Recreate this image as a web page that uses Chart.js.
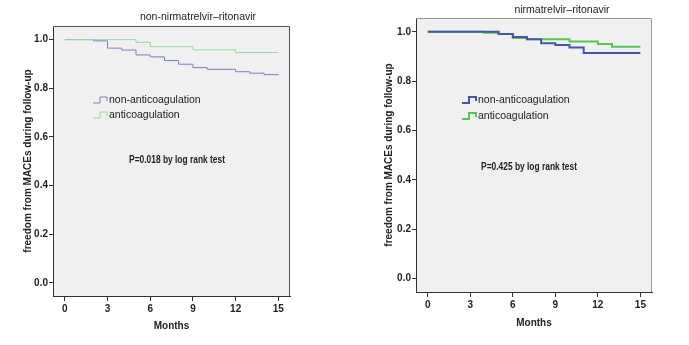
<!DOCTYPE html>
<html>
  <head>
    <script src="https://cdn.jsdelivr.net/npm/chart.js"></script>
    <title>Kaplan-Meier MACEs</title>
    <style>
      body {
        margin: 0;
        background-color: white;
      }
      .panel {
        position: absolute;
        top: 0;
      }
    </style>
  </head>
  <body>
    <canvas id="leftChart" class="panel" width="345" height="345" style="left:0px"></canvas>
    <canvas id="rightChart" class="panel" width="344" height="345" style="left:345px"></canvas>

    <script>
      // axis ticks
      var monthTicks = [0, 3, 6, 9, 12, 15];
      var survTicks = [0, 0.2, 0.4, 0.6, 0.8, 1.0];

      // non-nirmatrelvir-ritonavir group (left)
      var leftNonTime = [0, 2, 3, 4, 5, 6, 7, 8, 9, 10, 12, 13, 14, 15];
      var leftNonSurv = [1, 0.995, 0.965, 0.957, 0.937, 0.929, 0.914, 0.899, 0.885, 0.878, 0.868, 0.862, 0.856, 0.854];
      var leftAntiTime = [0, 5, 6, 9, 12, 15];
      var leftAntiSurv = [1, 0.989, 0.971, 0.958, 0.947, 0.947];

      // nirmatrelvir-ritonavir group (right)
      var rightNonTime = [0, 5, 6, 7, 8, 9, 10, 11, 15];
      var rightNonSurv = [1, 0.991, 0.979, 0.970, 0.954, 0.947, 0.936, 0.914, 0.914];
      var rightAntiTime = [0, 4, 5, 6, 7, 10, 12, 13, 15];
      var rightAntiSurv = [1, 0.996, 0.991, 0.975, 0.970, 0.961, 0.951, 0.940, 0.940];

      var seriesNames = ['non-anticoagulation', 'anticoagulation'];

      function toPoints(times, surv) {
        var pts = [];
        for (var i = 0; i < times.length; i++) {
          pts.push({x: times[i], y: surv[i]});
        }
        return pts;
      }

      var regular = '"Liberation Sans", Arial, sans-serif';

      // grey plot background + box, title, legend and p-value text
      var panelPlugin = {
        id: 'panel',
        beforeDraw: function(chart) {
          var a = chart.chartArea, ctx = chart.ctx;
          ctx.save();
          ctx.fillStyle = '#f0f0f0';
          ctx.fillRect(a.left, a.top, a.right - a.left, a.bottom - a.top);
          ctx.restore();
        },
        afterDraw: function(chart) {
          var o = chart.options.plugins.panel;
          var a = chart.chartArea, ctx = chart.ctx;
          ctx.save();
          ctx.strokeStyle = o.boxColor;
          ctx.lineWidth = 1;
          ctx.beginPath();
          ctx.moveTo(a.left, a.top + 0.5);
          ctx.lineTo(a.right - 0.5, a.top + 0.5);
          ctx.lineTo(a.right - 0.5, a.bottom);
          ctx.stroke();

          ctx.fillStyle = '#222';
          ctx.textBaseline = 'middle';
          ctx.textAlign = 'center';
          ctx.font = '10.5px ' + regular;
          ctx.fillText(o.title, o.titleX, o.titleY);

          // narrow bold look for the p-value note
          ctx.save();
          ctx.translate(o.pX, o.pY);
          ctx.scale(0.8, 1);
          ctx.font = 'bold 10.5px ' + regular;
          ctx.fillText(o.pText, 0, 0);
          ctx.restore();

          // legend with step symbol
          ctx.textAlign = 'left';
          ctx.font = '10.5px ' + regular;
          chart.data.datasets.forEach(function(ds, i) {
            var y = o.legendY[i];
            var x = o.legendX;
            ctx.strokeStyle = ds.borderColor;
            ctx.lineWidth = ds.borderWidth;
            ctx.beginPath();
            ctx.moveTo(x, y + 3);
            ctx.lineTo(x + 7, y + 3);
            ctx.lineTo(x + 7, y - 3);
            ctx.lineTo(x + 14, y - 3);
            ctx.lineTo(x + 14, y + 1);
            ctx.stroke();
            ctx.fillStyle = '#222';
            ctx.fillText(ds.label, x + 16, y);
          });
          ctx.restore();
        }
      };

      function makePanel(id, area, datasets, panelOpts) {
        var canvas = document.getElementById(id);
        var W = canvas.width, H = canvas.height;
        return new Chart(canvas.getContext('2d'), {
          type: 'line',
          data: {datasets: datasets},
          options: {
            responsive: false,
            animation: false,
            devicePixelRatio: 1,
            layout: {
              padding: {top: area.top, right: W - area.right, bottom: 0, left: 0}
            },
            elements: {point: {radius: 0, hoverRadius: 0}},
            plugins: {
              legend: {display: false},
              tooltip: {enabled: false},
              panel: panelOpts
            },
            scales: {
              x: {
                type: 'linear',
                min: -0.83,
                max: 15.82,
                afterBuildTicks: function(scale) {
                  scale.ticks = monthTicks.map(function(v) { return {value: v}; });
                },
                afterFit: function(scale) { scale.height = H - area.bottom; },
                grid: {drawOnChartArea: false, drawTicks: true, tickLength: 5, color: '#333'},
                border: {display: true, color: '#333', width: 1},
                ticks: {
                  padding: 2,
                  maxRotation: 0,
                  color: '#222',
                  font: {family: regular, size: 10, weight: 'bold'}
                },
                title: {
                  display: true,
                  text: 'Months',
                  color: '#222',
                  font: {family: regular, size: 10, weight: 'bold'},
                  padding: {top: 0, bottom: panelOpts.xTitlePad}
                }
              },
              y: {
                type: 'linear',
                min: -0.054,
                max: 1.056,
                afterBuildTicks: function(scale) {
                  scale.ticks = survTicks.map(function(v) { return {value: v}; });
                },
                afterFit: function(scale) { scale.width = area.left; },
                grid: {drawOnChartArea: false, drawTicks: true, tickLength: 4, color: '#333'},
                border: {display: true, color: '#333', width: 1},
                ticks: {
                  padding: 1,
                  color: '#222',
                  font: {family: regular, size: 10, weight: 'bold'},
                  callback: function(v) { return v.toFixed(1); }
                },
                title: {
                  display: true,
                  text: 'freedom from MACEs during follow-up',
                  color: '#222',
                  font: {family: regular, size: 10, weight: 'bold'},
                  padding: {top: panelOpts.yTitlePad, bottom: 0}
                }
              }
            }
          },
          plugins: [panelPlugin]
        });
      }

      // left: green drawn over blue
      makePanel('leftChart', {left: 53, top: 26, right: 290, bottom: 296}, [
        {label: seriesNames[0], data: toPoints(leftNonTime, leftNonSurv), borderColor: '#7483bb', borderWidth: 1, stepped: 'before', fill: false, order: 1},
        {label: seriesNames[1], data: toPoints(leftAntiTime, leftAntiSurv), borderColor: '#98d898', borderWidth: 1, stepped: 'before', fill: false, order: 0}
      ], {
        title: 'non-nirmatrelvir\u2013ritonavir', titleX: 198, titleY: 17,
        pText: 'P=0.018 by log rank test', pX: 177, pY: 160,
        legendX: 93, legendY: [100, 115],
        boxColor: '#555', xTitlePad: 13, yTitlePad: 22
      });

      // right: blue drawn over green
      makePanel('rightChart', {left: 71, top: 18, right: 307, bottom: 292}, [
        {label: seriesNames[0], data: toPoints(rightNonTime, rightNonSurv), borderColor: '#4556a8', borderWidth: 2, stepped: 'before', fill: false, order: 0},
        {label: seriesNames[1], data: toPoints(rightAntiTime, rightAntiSurv), borderColor: '#55c655', borderWidth: 2, stepped: 'before', fill: false, order: 1}
      ], {
        title: 'nirmatrelvir\u2013ritonavir', titleX: 217, titleY: 10,
        pText: 'P=0.425 by log rank test', pX: 184, pY: 167,
        legendX: 117, legendY: [100, 116],
        boxColor: '#999', xTitlePad: 16, yTitlePad: 38
      });
    </script>
  </body>
</html>
